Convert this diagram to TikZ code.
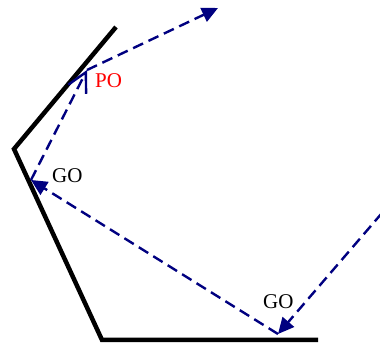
\documentclass[tikz,border=0pt]{standalone}
\usepackage{fontspec}
\setmainfont{Liberation Serif}
\usetikzlibrary{arrows.meta}
\definecolor{ray}{RGB}{0,0,128}
\tikzset{
  wall/.style={line width=4.5pt, line join=miter, black},
  raypath/.style={ray, line width=2.4pt, dash pattern=on 11pt off 6pt},
  filltip/.style={-{Triangle[length=16pt,width=15pt]}},
  barbtip/.style={-{Straight Barb[length=19pt,width=20pt,line width=2.4pt]}},
  lbl/.style={font=\fontsize{21}{24}\selectfont, inner sep=0pt, anchor=west}
}
\begin{document}
\begin{tikzpicture}[x=1pt,y=-1pt]
\useasboundingbox (0,0) rectangle (380,344);
% wall
\coordinate (w1) at (116,27);
\coordinate (w2) at (14,149);
\coordinate (w3) at (102,340);
\coordinate (w4) at (318,340);
\draw[wall] (w1) -- (w2) -- (w3) -- (w4);
% ray points
\coordinate (s) at (382,213);
\coordinate (b) at (278,334);
\coordinate (l) at (31,180);
\coordinate (p) at (87,70);
\coordinate (t) at (218,8);
\draw[raypath, filltip] (s) -- (b);
\draw[raypath, filltip] (b) -- (l);
\draw[raypath, barbtip] (l) -- (p);
\draw[raypath, filltip] (p) -- (t);
% labels
\node[lbl, text=red] (po) at (95,81) {PO};
\node[lbl] (go1) at (52,176) {GO};
\node[lbl] (go2) at (263,302) {GO};
\end{tikzpicture}
\end{document}
